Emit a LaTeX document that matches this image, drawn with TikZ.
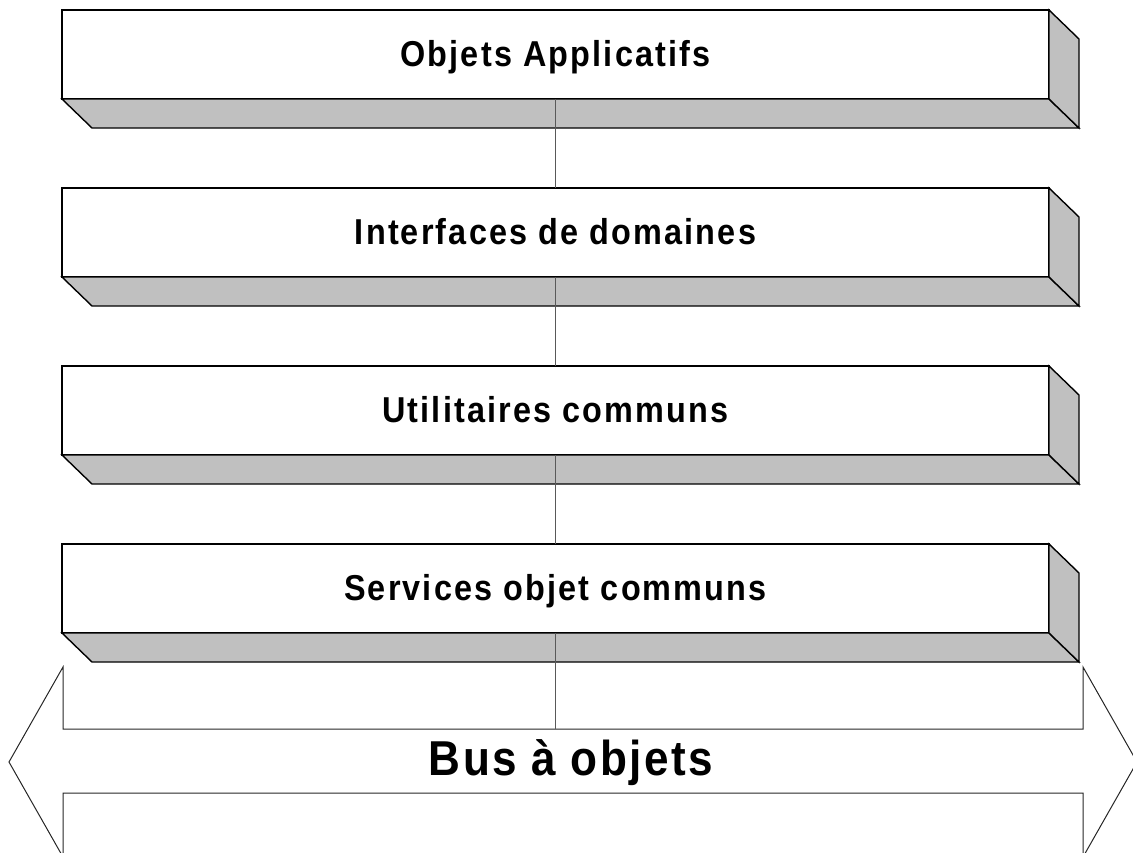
\documentclass[tikz,border=0pt]{standalone}
\usepackage{fontspec}
\setmainfont{Liberation Sans}
\newfontfamily\boxfont{Liberation Sans}[LetterSpace=6,FakeStretch=0.9]
\newfontfamily\busfont{Liberation Sans}[LetterSpace=5,FakeStretch=0.9]
\usetikzlibrary{calc}
\definecolor{shade}{HTML}{C0C0C0}
\tikzset{
  layerbox/.style={draw=black, line width=1.4pt, fill=white, minimum width=987pt, minimum height=89pt, inner sep=0pt, outer sep=0pt},
  layertext/.style={anchor=base, inner sep=0pt, font=\boxfont\bfseries\fontsize{36}{40}\selectfont},
  bustext/.style={anchor=base, inner sep=0pt, font=\busfont\bfseries\fontsize{49}{54}\selectfont},
  shadowface/.style={fill=shade, draw=black, line width=1.4pt, line join=miter},
  link/.style={draw=black!65, line width=1.3pt},
  busline/.style={draw=black!85, line width=1pt, line join=miter}
}
\begin{document}
\begin{tikzpicture}[x=1pt,y=-1pt]
\useasboundingbox (0,0) rectangle (1133,852);
\clip (0,0) rectangle (1133,852);
% arrow (bus)
\coordinate (arrL) at (63,729);
\coordinate (arrR) at (1083,729);
\draw[busline] (63,793) -- (1083,793) -- (1083,857) -- (1137,762) -- (1083,667) -- (arrR) -- (arrL) -- (63,667) -- (9,762) -- (63,857) -- cycle;
\node[bustext] (bus) at (571,775) {Bus à objets};
% layers
\foreach \i/\t in {1/Objets Applicatifs,2/Interfaces de domaines,3/Utilitaires communs,4/Services objet communs}{
  \pgfmathsetmacro{\yc}{54.5+178*(\i-1)}
  \node[layerbox] (b\i) at (555.5,\yc) {};
  \draw[shadowface] (b\i.south west) -- (b\i.south east) -- ++(30,29) -- ($(b\i.south west)+(30,29)$) -- cycle;
  \draw[shadowface] (b\i.north east) -- ++(30,29) -- ++(0,89) -- (b\i.south east) -- cycle;
  \node[layertext] (t\i) at ($(b\i.north)+(0,56)$) {\t};
}
% connectors
\draw[link] (b1.south) -- (b2.north);
\draw[link] (b2.south) -- (b3.north);
\draw[link] (b3.south) -- (b4.north);
\draw[link] (b4.south) -- (b4.south |- arrL);
\end{tikzpicture}
\end{document}
